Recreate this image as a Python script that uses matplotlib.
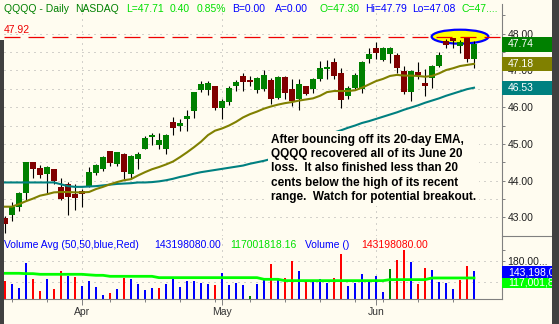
import matplotlib
matplotlib.use('Agg')
import matplotlib.pyplot as plt
import matplotlib.transforms as mtransforms
from matplotlib.patches import Ellipse, Rectangle
from matplotlib.lines import Line2D
import numpy as np
import pandas as pd

# --- data: QQQQ daily, Mar 16 - Jun 21 2007 (no Good Friday, no Memorial Day)
days = pd.bdate_range('2007-03-16', '2007-06-21')
days = days.drop(pd.to_datetime(['2007-04-06', '2007-05-28']))

opens = [42.97, 43.06, 43.27, 43.67, 44.50, 44.35, 44.17, 44.32, 43.83, 43.92,
         43.63, 43.72, 43.83, 44.22, 44.32, 44.80, 44.46, 44.73, 44.17, 44.59,
         44.86, 45.20, 44.97, 44.85, 45.61, 45.50, 45.68, 45.90, 46.47, 46.47,
         46.58, 45.99, 46.14, 46.58, 46.85, 46.74, 46.47, 46.50, 46.74, 46.26,
         46.83, 46.49, 46.22, 46.58, 46.50, 46.76, 47.05, 47.23, 46.92, 46.31,
         46.53, 46.49, 47.32, 47.61, 47.28, 47.45, 47.41, 46.98, 46.40, 46.95,
         46.65, 46.80, 47.12, 47.79, 47.88, 47.66, 47.88, 47.30]
highs = [43.04, 43.41, 43.69, 44.52, 44.50, 44.43, 44.39, 44.32, 44.07, 43.95,
         43.92, 43.77, 44.37, 44.45, 44.66, 44.82, 44.79, 44.75, 44.70, 44.79,
         45.21, 45.29, 45.30, 45.27, 45.72, 45.68, 45.93, 46.41, 46.71, 46.70,
         46.59, 46.22, 46.58, 46.74, 46.94, 46.86, 46.83, 47.01, 46.80, 46.85,
         46.86, 46.76, 46.76, 46.59, 46.80, 47.25, 47.28, 47.34, 47.07, 46.59,
         46.94, 47.25, 47.61, 47.77, 47.64, 47.64, 47.48, 47.12, 47.01, 47.23,
         47.03, 47.14, 47.50, 47.86, 47.88, 47.82, 47.88, 47.79]
lows = [42.57, 42.91, 43.17, 43.47, 44.08, 44.07, 43.67, 43.92, 43.47, 43.06,
        43.20, 43.29, 43.83, 44.14, 44.25, 44.39, 44.41, 44.05, 44.07, 44.32,
        44.85, 44.97, 44.85, 44.73, 45.23, 45.36, 45.36, 45.70, 46.40, 46.32,
        45.93, 45.69, 46.06, 46.44, 46.44, 46.58, 46.38, 46.44, 46.08, 46.22,
        46.22, 46.02, 45.93, 46.32, 46.38, 46.71, 46.77, 46.76, 45.99, 46.22,
        46.49, 46.38, 47.21, 47.30, 47.25, 47.21, 46.94, 46.35, 46.17, 46.77,
        46.31, 46.53, 47.10, 47.61, 47.61, 47.48, 47.23, 47.08]
closes = [42.82, 43.27, 43.65, 44.50, 44.31, 44.14, 44.37, 44.00, 43.51, 43.56,
          43.54, 43.63, 44.23, 44.43, 44.64, 44.49, 44.77, 44.23, 44.66, 44.73,
          45.16, 45.25, 45.11, 45.25, 45.43, 45.57, 45.77, 46.40, 46.64, 46.66,
          45.99, 46.17, 46.51, 46.68, 46.69, 46.69, 46.80, 46.89, 46.22, 46.83,
          46.38, 46.17, 46.62, 46.35, 46.77, 47.07, 47.10, 46.85, 46.20, 46.53,
          46.89, 47.23, 47.44, 47.47, 47.61, 47.61, 47.07, 46.40, 46.98, 46.89,
          46.58, 47.12, 47.41, 47.70, 47.80, 47.78, 47.32, 47.71]

ema20 = [43.29, 43.29, 43.36, 43.44, 43.51, 43.59, 43.63, 43.68, 43.69, 43.69,
         43.68, 43.68, 43.69, 43.77, 43.83, 43.90, 43.96, 44.01, 44.04, 44.14,
         44.23, 44.31, 44.37, 44.44, 44.52, 44.64, 44.77, 44.91, 45.06, 45.24,
         45.36, 45.42, 45.50, 45.60, 45.72, 45.81, 45.88, 45.96, 46.02, 46.07,
         46.11, 46.14, 46.18, 46.21, 46.24, 46.31, 46.41, 46.44, 46.44, 46.44,
         46.46, 46.53, 46.62, 46.71, 46.77, 46.85, 46.88, 46.86, 46.86, 46.85,
         46.83, 46.85, 46.92, 47.01, 47.06, 47.12, 47.15, 47.18]
ema50 = [43.95, 43.95, 43.95, 43.95, 43.95, 43.95, 43.95, 43.95, 43.90, 43.85,
         43.83, 43.83, 43.84, 43.85, 43.87, 43.89, 43.91, 43.92, 43.93, 43.95,
         43.95, 43.96, 43.98, 44.01, 44.05, 44.10, 44.14, 44.19, 44.23, 44.26,
         44.29, 44.32, 44.35, 44.38, 44.41, 44.46, 44.50, 44.54, 44.59, 44.67,
         44.75, 44.83, 44.91, 44.99, 45.07, 45.15, 45.23, 45.31, 45.37, 45.44,
         45.50, 45.57, 45.62, 45.68, 45.74, 45.80, 45.86, 45.93, 45.99, 46.05,
         46.12, 46.18, 46.24, 46.31, 46.37, 46.43, 46.49, 46.53]

# volume in millions of shares, and its 50-day average
volume = [106.7, 94.4, 78.5, 172.8, 112.8, 68.7, 112.8, 76.1, 142.2, 125.1,
          119.0, 88.3, 105.5, 83.4, 54.0, 62.6, 76.1, 117.7, 112.8, 95.7,
          72.4, 81.0, 79.8, 94.4, 120.2, 83.4, 105.5, 105.5, 96.9, 94.4,
          90.8, 134.9, 90.8, 98.1, 89.6, 50.4, 94.4, 112.8, 168.0, 114.0,
          115.3, 179.0, 142.2, 109.1, 101.8, 112.8, 99.4, 116.5, 204.7, 87.1,
          99.4, 132.4, 109.1, 123.9, 66.3, 148.4, 182.7, 219.4, 175.3, 94.4,
          153.3, 145.9, 101.8, 99.4, 76.1, 109.1, 160.6, 143.2]
vol_avg = [133.7, 133.7, 133.7, 132.4, 132.4, 130.0, 130.0, 130.0, 130.0, 130.0,
           130.0, 130.0, 128.0, 126.3, 126.3, 122.6, 122.6, 122.6, 122.6, 122.6,
           122.6, 122.6, 117.7, 117.7, 117.7, 117.7, 117.7, 117.7, 117.7, 117.7,
           117.7, 117.7, 117.7, 117.7, 117.7, 117.7, 117.7, 111.6, 111.6, 111.6,
           106.7, 106.7, 106.7, 106.7, 106.7, 106.7, 106.7, 106.7, 106.7, 106.7,
           106.7, 106.7, 106.7, 106.7, 106.7, 110.4, 110.4, 110.4, 110.4, 110.4,
           110.4, 116.5, 116.5, 116.5, 116.5, 116.5, 116.5, 116.5]

resistance = 47.92
last_label = '47.74'

# --- styling
BG = '#fffcf0'
GRID = '#a8a8a8'
AXC = '#808080'
W, H = 559, 324
plt.rcParams['font.family'] = ['Liberation Sans', 'DejaVu Sans']


def fx(px):
    return px / W


def fy(py):
    return 1 - py / H


fig = plt.figure(figsize=(W / 100, H / 100), dpi=100, facecolor=BG)
ax = fig.add_axes([fx(4), fy(235.7), fx(502.5) - fx(4), (235.7 - 4) / H])
axv = fig.add_axes([fx(4), fy(299), fx(502.5) - fx(4), (299 - 235.7) / H])

x = np.arange(len(days))
o, h, l, c = map(np.array, (opens, highs, lows, closes))
month_start = [i for i in range(1, len(days)) if days[i].month != days[i - 1].month]
week_start = [i for i in range(1, len(days)) if days[i].weekday() < days[i - 1].weekday()]

for a in (ax, axv):
    a.set_facecolor(BG)
    a.set_xlim(-1 / 7, 497.5 / 7)
    for s in a.spines.values():
        s.set_visible(False)
    a.spines['right'].set_visible(True)
    a.spines['right'].set_color(AXC)
    a.spines['right'].set_linewidth(0.8)
    for i in month_start:
        a.axvline(i, color=GRID, lw=0.72, ls=(0, (1, 5)), zorder=0.5)

# --- price panel
ax.set_ylim(42.55, 48.81)
for lvl in np.arange(43.0, 48.01, 0.5):
    ax.axhline(lvl, color=GRID, lw=0.72, ls=(0, (1, 5)), zorder=0.5)

# yellow ellipse around the last five bars, at the resistance level
ax.add_patch(Ellipse((x[-5:].mean(), resistance), 8.1, 0.38,
                     facecolor='#ffff00', edgecolor='#0000ff', lw=1.6, zorder=1))

ax.vlines(x, l, h, color='black', lw=0.8, zorder=2)
up = c >= o
body = np.maximum(np.abs(c - o), 0.03)
ax.bar(x, body, bottom=np.minimum(o, c), width=0.82,
       color=np.where(up, '#008000', '#800000'), linewidth=0, zorder=3)

ax.plot(x, ema50, color='#008080', lw=1.5, zorder=4)
ax.plot(x, ema20, color='#808000', lw=1.5, zorder=4)
ax.axhline(resistance, color='#ee0000', lw=0.9, ls=(0, (12.8, 6.4)), zorder=4.5)
ax.annotate(f'{resistance:.2f}', xy=(0, resistance), xycoords=('axes fraction', 'data'),
            xytext=(0, 4), textcoords='offset pixels', va='baseline', ha='left',
            color='#ee0000', fontsize=7.5)

note = ('After bouncing off its 20-day EMA,\n'
        'QQQQ recovered all of its June 20\n'
        'loss.  It also finished less than 20\n'
        'cents below the high of its recent\n'
        'range.  Watch for potential breakout.')
ax.text(38.0, 45.28, note, fontsize=8.5, fontweight='bold', va='top', ha='left',
        linespacing=1.27, color='black', zorder=5,
        bbox=dict(facecolor=BG, edgecolor='none', pad=2))

ax.yaxis.tick_right()
ax.set_yticks(np.arange(43, 49, 1.0))
ax.set_yticklabels([f'{v:.2f}' for v in np.arange(43, 49, 1.0)])
ax.set_yticks(np.arange(42.5, 49, 1.0), minor=True)
ax.tick_params(axis='y', which='both', direction='out', length=2.4, width=0.7,
               color=AXC, pad=1.2, labelsize=7.5, labelcolor='#202020')
ax.tick_params(axis='x', which='both', bottom=False, labelbottom=False)

# --- volume panel
axv.set_ylim(39.2, 271.9)
for lvl in (100, 180):
    axv.axhline(lvl, color=GRID, lw=0.72, ls=(0, (1, 5)), zorder=0.5)
prev = np.concatenate([[o[0]], c[:-1]])
vcol = np.where(np.isclose(c, prev), '#008000', np.where(c > prev, '#0000ff', '#ff0000'))
axv.bar(x, volume, width=0.32, color=vcol, linewidth=0, zorder=2)
axv.plot(x, vol_avg, color='#00ff00', lw=2.0, zorder=3)

axv.spines['bottom'].set_visible(True)
axv.spines['bottom'].set_color(AXC)
axv.spines['bottom'].set_linewidth(0.8)
axv.set_xticks(month_start)
axv.set_xticklabels([days[i].strftime('%b') for i in month_start])
axv.set_xticks(week_start, minor=True)
axv.tick_params(axis='x', which='major', direction='out', length=4, width=0.7,
                color=AXC, pad=1.5, labelsize=7.5, labelcolor='#333333')
axv.tick_params(axis='x', which='minor', direction='out', length=1.8, width=0.7, color=AXC)
axv.yaxis.tick_right()
axv.set_yticks([180, 220])
axv.set_yticklabels(['180.00...', ''])
axv.tick_params(axis='y', direction='out', length=2.4, width=0.7, color=AXC,
                pad=1.2, labelsize=7.5, labelcolor='#202020')


def value_box(a, value, label, fc, shift_px=0.0, h_px=14.0, tc='white'):
    # coloured tag on the right scale, centred on a series' last value
    y0, y1 = a.get_ylim()
    per_px = (y1 - y0) / (a.get_position().height * H)
    ax_w = a.get_position().width * W
    tr = mtransforms.blended_transform_factory(a.transAxes, a.transData)
    yc = value - shift_px * per_px
    a.add_patch(Rectangle((1.0, yc - h_px / 2 * per_px), 0.1, h_px * per_px, transform=tr,
                          facecolor=fc, edgecolor='none', clip_on=False, zorder=6))
    a.text(1.0 + 5.5 / ax_w, yc, label, transform=tr, color=tc, fontsize=7.5,
           va='center', ha='left', clip_on=False, zorder=7)


value_box(ax, closes[-1], last_label, '#008000', h_px=15)
value_box(ax, ema20[-1], f'{ema20[-1]:.2f}', '#808000')
value_box(ax, ema50[-1], f'{ema50[-1]:.2f}', '#008080')
value_box(axv, vol_avg[-1], '117,001,8', '#00ff00', shift_px=4.5, h_px=12)
value_box(axv, volume[-1], '143,198,0', '#0000ff', shift_px=1.5, h_px=12.5)

# --- header texts
head = [(4, 'QQQQ - Daily', '#008000'), (75, 'NASDAQ', '#008000'),
        (126, 'L=47.71', '#00e000'), (170, '0.40', '#00e000'), (197, '0.85%', '#00e000'),
        (232, 'B=0.00', '#0000ff'), (275, 'A=0.00', '#0000ff'),
        (319, 'O=47.30', '#00e000'), (365, 'Hi=47.79', '#0000ff'),
        (412, 'Lo=47.08', '#0000ff'), (462, 'C=47....', '#00e000')]
for px, s, col in head:
    fig.text(fx(px), fy(12.5), s, color=col, fontsize=7.5, va='baseline', ha='left')

vhead = [(4, 'Volume Avg (50,50,blue,Red)', '#0000ff'), (154, '143198080.00', '#0000ff'),
         (230, '117001818.16', '#00e000'), (305, 'Volume ()', '#0000ff'),
         (361, '143198080.00', '#ff0000')]
for px, s, col in vhead:
    fig.text(fx(px), fy(248), s, color=col, fontsize=7.5, va='baseline', ha='left')

# separator between the two scales, and the dark frame strips
fig.add_artist(Line2D([fx(502.5), fx(552)], [fy(235.7), fy(235.7)], color=AXC, lw=0.8))
fig.add_artist(Rectangle((fx(552), 0), 1 - fx(552), 1, transform=fig.transFigure,
                         facecolor='#404040', edgecolor='none', zorder=10))
fig.add_artist(Rectangle((0, 0), fx(3.5), fy(40), transform=fig.transFigure,
                         facecolor='#404040', edgecolor='none', zorder=10))

fig.savefig('out.png', dpi=100, facecolor=BG)
